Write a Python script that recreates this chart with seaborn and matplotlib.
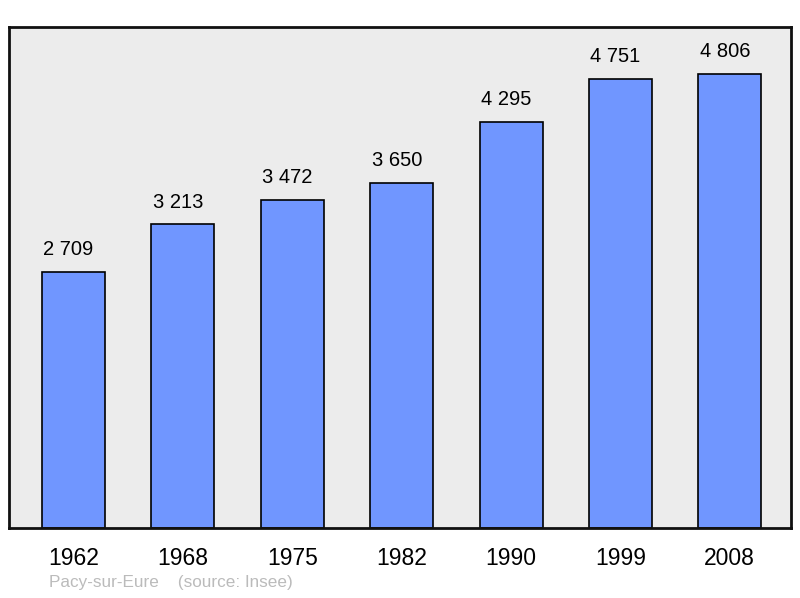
import matplotlib
matplotlib.use("Agg")
import matplotlib.pyplot as plt
import seaborn as sns
import pandas as pd

years = ['1962', '1968', '1975', '1982', '1990', '1999', '2008']
population = [2709, 3213, 3472, 3650, 4295, 4751, 4806]
value_labels = ['2 709', '3 213', '3 472', '3 650', '4 295', '4 751', '4 806']

df = pd.DataFrame({'year': years, 'pop': population})

sns.set_style('white')
plt.rcParams['font.family'] = ['Liberation Sans', 'DejaVu Sans']

fig = plt.figure(figsize=(8, 5.98), dpi=100)
ax = fig.add_axes([9 / 800, 1 - 528 / 598, 782 / 800, 501 / 598])
ax.set_facecolor('#ececec')

sns.barplot(data=df, x='year', y='pop', color='#7096ff', saturation=1,
            width=0.576, edgecolor='black', linewidth=1.2, ax=ax)

# value labels sit a little left of the bar centre in the original
for i, (v, lab) in enumerate(zip(population, value_labels)):
    ax.text(i - 0.045, v + 235, lab, ha='center', va='center', fontsize=14.5, color='black')

ax.set_xlim(-0.59, 6.56)
ax.set_ylim(0, 5300)
ax.set_yticks([])
ax.set_xlabel('')
ax.set_ylabel('')
ax.tick_params(axis='x', length=0, pad=14, labelsize=16.5, labelcolor='black')
for s in ax.spines.values():
    s.set_visible(True)
    s.set_linewidth(2)
    s.set_color('#111111')

fig.text(49 / 800, 1 - 583 / 598, 'Pacy-sur-Eure    (source: Insee)',
         fontsize=12.3, color='#bbbbbb', ha='left', va='center')

fig.savefig('out.png', dpi=100)
